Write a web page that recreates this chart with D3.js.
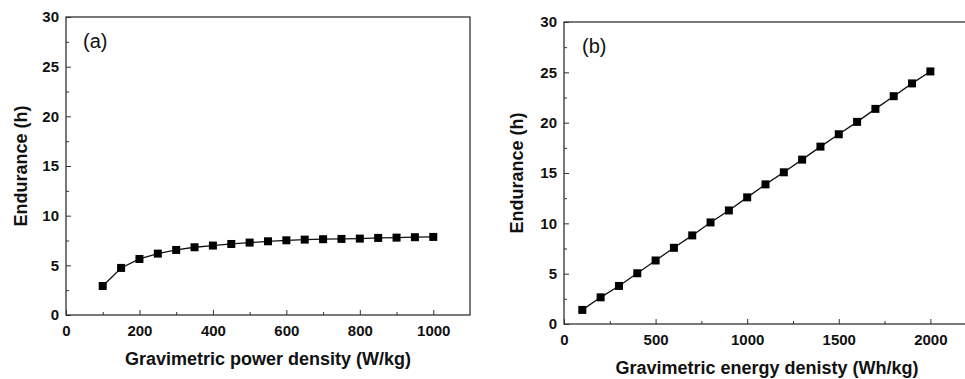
<!DOCTYPE html>
<html>
<head>
<meta charset="utf-8">
<script src="https://cdn.jsdelivr.net/npm/d3@7"></script>
<style>
  body { margin: 0; background: #fff; }
  svg { display: block; font-family: "Liberation Sans", Arial, sans-serif; }
</style>
</head>
<body>
<svg id="chart" width="965" height="379"></svg>
<script>
// panel (a): endurance vs power density
const powerDensity = [100, 150, 200, 250, 300, 350, 400, 450, 500, 550, 600, 650, 700, 750, 800, 850, 900, 950, 1000];
const enduranceA = [2.92, 4.74, 5.64, 6.18, 6.55, 6.82, 6.99, 7.15, 7.29, 7.42, 7.52, 7.59, 7.63, 7.66, 7.69, 7.76, 7.79, 7.83, 7.86];

// panel (b): endurance vs energy density
const energyDensity = [100, 200, 300, 400, 500, 600, 700, 800, 900, 1000, 1100, 1200, 1300, 1400, 1500, 1600, 1700, 1800, 1900, 2000];
const enduranceB = [1.4, 2.65, 3.78, 5.04, 6.31, 7.57, 8.80, 10.09, 11.28, 12.58, 13.87, 15.07, 16.33, 17.62, 18.85, 20.08, 21.37, 22.63, 23.90, 25.09];

const yTicks = [0, 5, 10, 15, 20, 25, 30];
const xTicksA = [0, 200, 400, 600, 800, 1000];
const xTicksB = [0, 500, 1000, 1500, 2000];

const svg = d3.select('#chart');

function drawPanel(cfg) {
  const x = d3.scaleLinear().domain(cfg.xDomain).range([cfg.left, cfg.right]);
  const y = d3.scaleLinear().domain([0, 30]).range([cfg.bottom, cfg.top]);
  const g = svg.append('g');

  // y axis: ticks point inward
  g.append('g')
    .attr('transform', `translate(${cfg.left},0)`)
    .call(d3.axisRight(y).tickValues(d3.range(2.5, 30, 5)).tickSize(3).tickFormat(''))
    .call(s => s.select('.domain').remove());
  const ya = g.append('g')
    .attr('transform', `translate(${cfg.left},0)`)
    .call(d3.axisRight(y).tickValues(yTicks).tickSize(5));
  ya.select('.domain').remove();
  ya.selectAll('text').attr('x', -7).attr('text-anchor', 'end');

  // x axis: ticks point inward
  g.append('g')
    .attr('transform', `translate(0,${cfg.bottom})`)
    .call(d3.axisTop(x).tickValues(cfg.xMinor).tickSize(3).tickFormat(''))
    .call(s => s.select('.domain').remove());
  const xa = g.append('g')
    .attr('transform', `translate(0,${cfg.bottom})`)
    .call(d3.axisTop(x).tickValues(cfg.xTicks).tickSize(5).tickFormat(d3.format('d')));
  xa.select('.domain').remove();
  xa.selectAll('text').attr('y', 21).attr('dy', 0);

  g.selectAll('.tick line').attr('stroke', '#333').attr('stroke-width', 1);
  g.selectAll('.tick text')
    .attr('fill', '#111')
    .style('font-size', '15px')
    .style('font-weight', 'bold');

  // frame
  g.append('rect')
    .attr('x', cfg.left).attr('y', cfg.top)
    .attr('width', cfg.right - cfg.left).attr('height', cfg.bottom - cfg.top)
    .attr('fill', 'none').attr('stroke', '#333').attr('stroke-width', 1.3);

  // line + markers
  const pts = cfg.xs.map((v, i) => [v, cfg.ys[i]]);
  g.append('path')
    .datum(pts)
    .attr('fill', 'none').attr('stroke', '#111').attr('stroke-width', 1.3)
    .attr('d', d3.line().x(d => x(d[0])).y(d => y(d[1])));
  g.selectAll('.mk').data(pts).enter().append('rect')
    .attr('class', 'mk')
    .attr('x', d => x(d[0]) - 4).attr('y', d => y(d[1]) - 4)
    .attr('width', 8).attr('height', 8)
    .attr('fill', '#000');

  // panel letter
  g.append('text')
    .attr('x', cfg.letterX).attr('y', cfg.letterY)
    .style('font-size', '20px').attr('fill', '#111')
    .text(cfg.letter);

  // axis titles
  g.append('text')
    .attr('transform', `translate(${cfg.yTitleX},${(cfg.top + cfg.bottom) / 2}) rotate(-90)`)
    .attr('text-anchor', 'middle')
    .style('font-size', '18px').style('font-weight', 'bold').attr('fill', '#111')
    .text('Endurance (h)');
  g.append('text')
    .attr('x', cfg.xTitleX).attr('y', cfg.xTitleY)
    .attr('text-anchor', 'middle')
    .style('font-size', '18px').style('font-weight', 'bold').attr('fill', '#111')
    .text(cfg.xTitle);
}

drawPanel({
  left: 66, right: 470, top: 17, bottom: 315,
  xDomain: [0, 1100], xTicks: xTicksA, xMinor: [100, 300, 500, 700, 900],
  xs: powerDensity, ys: enduranceA,
  letter: '(a)', letterX: 83, letterY: 48,
  yTitleX: 27, xTitle: 'Gravimetric power density (W/kg)', xTitleX: 268, xTitleY: 365
});

drawPanel({
  left: 564, right: 967, top: 22, bottom: 324,
  xDomain: [0, 2200], xTicks: xTicksB, xMinor: [250, 750, 1250, 1750],
  xs: energyDensity, ys: enduranceB,
  letter: '(b)', letterX: 582, letterY: 53,
  yTitleX: 523, xTitle: 'Gravimetric energy denisty (Wh/kg)', xTitleX: 767, xTitleY: 374
});
</script>
</body>
</html>
